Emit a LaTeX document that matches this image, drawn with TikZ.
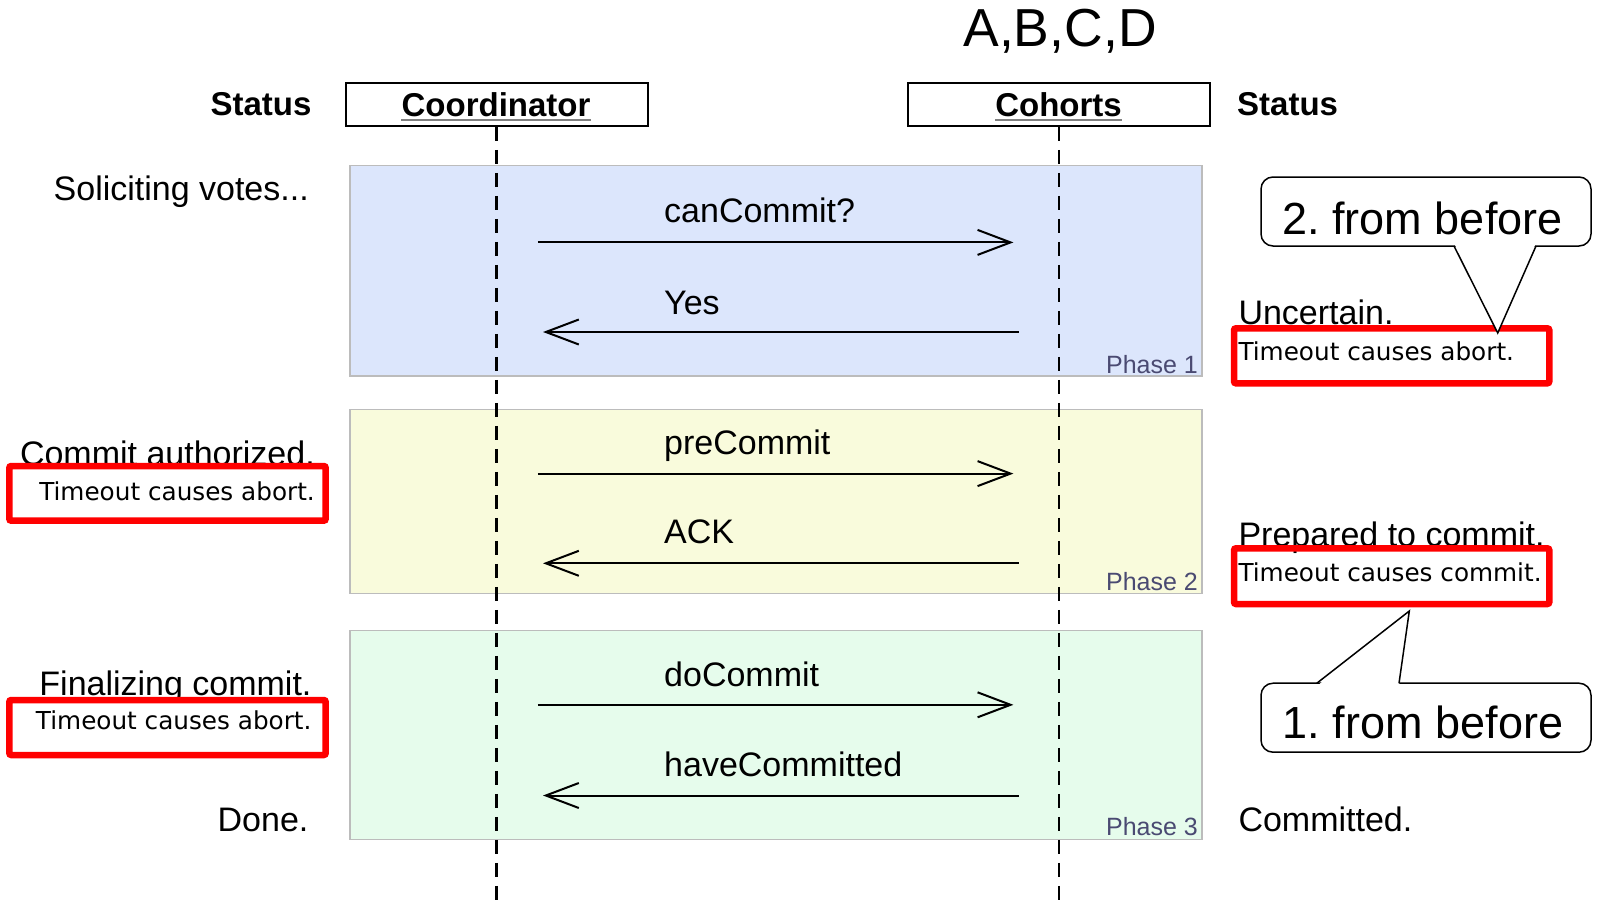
\documentclass[tikz,border=0pt]{standalone}
\usepackage{fontspec}
\setmainfont{Liberation Sans}
\newfontfamily\dvs{DejaVu Sans}
\usetikzlibrary{arrows.meta}
\definecolor{pafill}{HTML}{DCE6FC}
\definecolor{pbfill}{HTML}{F9FBDC}
\definecolor{pcfill}{HTML}{E6FCEC}
\definecolor{pborder}{HTML}{BCBCBC}
\definecolor{phasetxt}{HTML}{4A4A72}
\definecolor{ulgray}{HTML}{808080}
\frenchspacing
\begin{document}
\begin{tikzpicture}[x=1pt,y=-1pt,
  txt/.style={inner sep=0pt, font=\fontsize{34}{40}\selectfont, text height=24.4pt, text depth=0pt},
  boldtxt/.style={inner sep=0pt, font=\bfseries\fontsize{33}{40}\selectfont, text height=23.7pt, text depth=0pt},
  smalltxt/.style={inner sep=0pt, font=\dvs\fontsize{24.7}{28}\selectfont, text height=18pt, text depth=0pt},
  phasetext/.style={inner sep=0pt, font=\fontsize{25}{28}\selectfont, text height=18pt, text depth=0pt, text=phasetxt},
  bigtxt/.style={inner sep=0pt, font=\fontsize{45}{50}\selectfont, text height=32.3pt, text depth=0pt},
  actorbox/.style={draw=black, line width=2pt, minimum width=302pt, minimum height=43pt, inner sep=0pt},
  phasebox/.style={draw=pborder, line width=1.5pt},
  lifeline/.style={line width=2.6pt, dash pattern=on 14pt off 9pt},
  msg/.style={line width=2pt, -{Straight Barb[length=33pt,width=25pt,line width=2pt]}},
  redbox/.style={draw=red, line width=6.5pt, rounded corners=2pt},
  callbox/.style={draw=black, line width=1.5pt, rounded corners=12pt, fill=white},
]
\useasboundingbox[fill=white] (0,0) rectangle (1597,900);

% title
\node[inner sep=0pt, font=\fontsize{53.5}{60}\selectfont, text height=38.3pt, text depth=0pt] (title) at (1060,27) {A,B,C,D};

% phase boxes
\path[phasebox, fill=pafill] (350,165.5) rectangle (1202,376);
\path[phasebox, fill=pbfill] (350,409.5) rectangle (1202,593.5);
\path[phasebox, fill=pcfill] (350,630.5) rectangle (1202,839.5);
\node[phasetext, anchor=east] (ph1) at (1198,364) {Phase 1};
\node[phasetext, anchor=east] (ph2) at (1198,581) {Phase 2};
\node[phasetext, anchor=east] (ph3) at (1198,826.5) {Phase 3};

% actors
\node[actorbox] (coord) at (496.5,104.4) {};
\node[actorbox] (coh) at (1058.8,104.4) {};
\node[boldtxt] (coordt) at (496,105) {Coordinator};
\node[boldtxt] (coht) at (1058.5,105) {Cohorts};
\draw[ulgray, line width=2.5pt] ([yshift=-3pt]coordt.south west) -- ([yshift=-3pt]coordt.south east);
\draw[ulgray, line width=2.5pt] ([yshift=-3pt]coht.south west) -- ([yshift=-3pt]coht.south east);
\node[boldtxt, anchor=east] (stl) at (311.7,104) {Status};
\node[boldtxt, anchor=west] (str) at (1237,104) {Status};

% lifelines
\coordinate (coordend) at (496.5,900);
\coordinate (cohend) at (1058.8,900);
\draw[lifeline] (coord.south) -- (coordend);
\draw[lifeline] (coh.south) -- (cohend);

% messages
\coordinate (m1a) at (537.8,242.4); \coordinate (m1b) at (1013.4,242.4);
\coordinate (m2a) at (1018.5,332);  \coordinate (m2b) at (543,332);
\coordinate (m3a) at (537.8,473.6); \coordinate (m3b) at (1013.4,473.6);
\coordinate (m4a) at (1018.5,563.3);\coordinate (m4b) at (543,563.3);
\coordinate (m5a) at (537.8,704.8); \coordinate (m5b) at (1013.4,704.8);
\coordinate (m6a) at (1018.5,795.5);\coordinate (m6b) at (543,795.5);
\draw[msg] (m1a) -- (m1b);
\draw[msg] (m2a) -- (m2b);
\draw[msg] (m3a) -- (m3b);
\draw[msg] (m4a) -- (m4b);
\draw[msg] (m5a) -- (m5b);
\draw[msg] (m6a) -- (m6b);
\node[txt, anchor=west] (l1) at (664,210) {canCommit?};
\node[txt, anchor=west] (l2) at (664,302.5) {Yes};
\node[txt, anchor=west] (l3) at (664,442) {preCommit};
\node[txt, anchor=west] (l4) at (664,531.7) {ACK};
\node[txt, anchor=west] (l5) at (664,674.3) {doCommit};
\node[txt, anchor=west] (l6) at (664,764) {haveCommitted};

% left status
\node[txt, anchor=east] (s1) at (309,188) {Soliciting votes...};
\node[txt, anchor=east] (s2) at (315,452.8) {Commit authorized.};
\node[txt, anchor=east] (s3) at (311.7,683.3) {Finalizing commit.};
\node[txt, anchor=east] (s4) at (308.6,819) {Done.};
\draw[redbox] (9.3,466) rectangle (325.7,520.7);
\draw[redbox] (9.3,700) rectangle (325.7,755);
\node[smalltxt, anchor=east] (t1) at (315,491.3) {Timeout causes abort.};
\node[smalltxt, anchor=east] (t2) at (311.7,720.8) {Timeout causes abort.};

% right status
\node[txt, anchor=west] (r1) at (1238.3,312.5) {Uncertain.};
\node[txt, anchor=west] (r2) at (1238.3,534) {Prepared to commit.};
\node[txt, anchor=west] (r3) at (1238.3,819.5) {Committed.};
\draw[redbox] (1234,328.3) rectangle (1549.3,383.3);
\draw[redbox] (1234,548.3) rectangle (1549.3,604);
\node[smalltxt, anchor=west] (t3) at (1238.3,351.3) {Timeout causes abort.};
\node[smalltxt, anchor=west] (t4) at (1238.3,572.5) {Timeout causes commit.};

% callouts
\node[callbox, minimum width=330pt, minimum height=69pt, inner sep=0pt] (c2) at (1426,211.5) {};
\node[bigtxt] (c2t) at (1422.5,218.3) {2. from before};
\coordinate (c2a) at (1454,246); \coordinate (c2b) at (1536,246); \coordinate (c2tip) at (1497.7,333);
\fill[white] ([yshift=3pt]c2a) -- (c2tip) -- ([yshift=3pt]c2b) -- cycle;
\draw[line width=1.5pt, line join=miter] (c2a) -- (c2tip) -- (c2b);

\node[callbox, minimum width=330pt, minimum height=69pt, inner sep=0pt] (c1) at (1426,717.7) {};
\node[bigtxt] (c1t) at (1423,722.5) {1. from before};
\coordinate (c1a) at (1316.7,683.3); \coordinate (c1b) at (1399,683.3); \coordinate (c1tip) at (1409.3,611);
\fill[white] ([yshift=-3pt]c1a) -- (c1tip) -- ([yshift=-3pt]c1b) -- cycle;
\draw[line width=1.5pt, line join=miter] (c1a) -- (c1tip) -- (c1b);
\end{tikzpicture}
\end{document}
